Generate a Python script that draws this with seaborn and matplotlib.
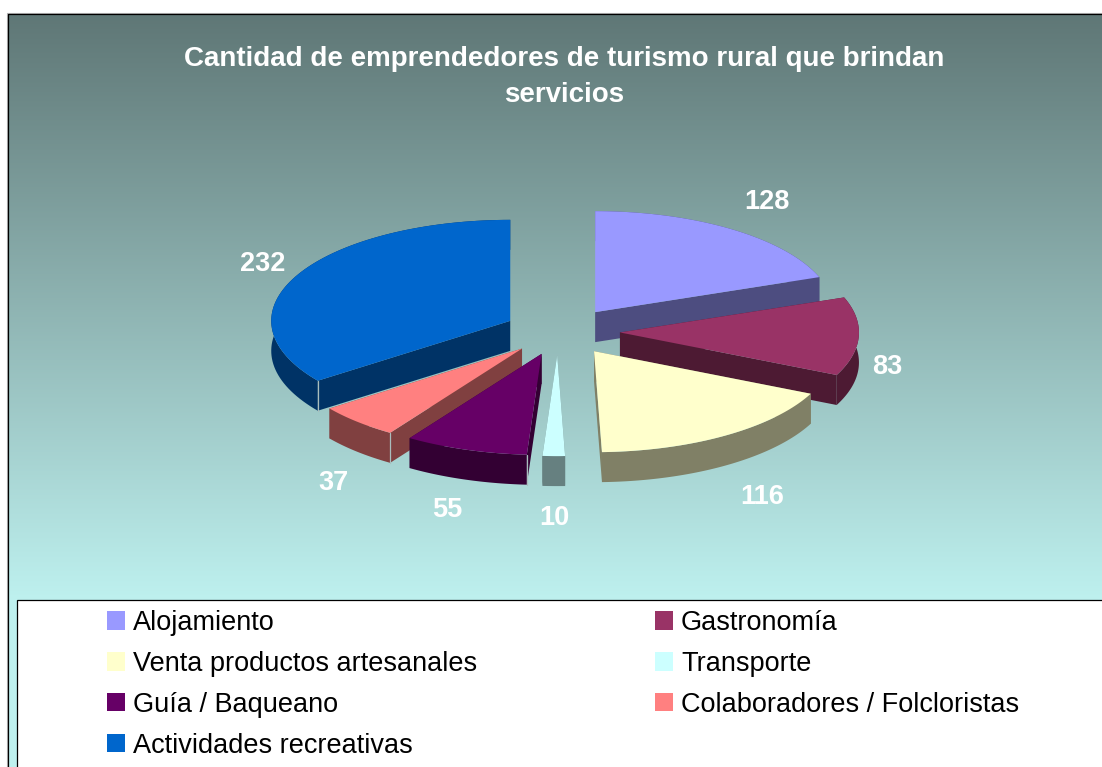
import numpy as np
import seaborn as sns
import matplotlib.pyplot as plt
from matplotlib.colors import LinearSegmentedColormap
from matplotlib.patches import Patch, Rectangle

# data
categories = ['Alojamiento', 'Gastronomía', 'Venta productos artesanales', 'Transporte',
              'Guía / Baqueano', 'Colaboradores / Folcloristas', 'Actividades recreativas']
values = [128, 83, 116, 10, 55, 37, 232]
colors = ['#9999FF', '#993366', '#FFFFCC', '#CCFFFF', '#660066', '#FF8080', '#0066CC']
title = 'Cantidad de emprendedores de turismo rural que brindan\nservicios'

# pie geometry in pixels
cx, cy = 562, 331.5
rx, ry = 239, 101
ex, ey = 58, 23.6
depth = 30
nudge = {3: -4, 4: -2}
label_pos = [(767, 202), (887, 367), (762, 497), (554, 518), (447, 510), (333, 483), (263, 264)]

sns.set_theme(style='white')
plt.rcParams['font.family'] = ['Liberation Sans', 'DejaVu Sans']
palette = sns.color_palette(colors)

fig = plt.figure(figsize=(11.02, 7.67), dpi=100)
ax = fig.add_axes([0, 0, 1, 1])
ax.set_xlim(0, 1102)
ax.set_ylim(767, 0)
ax.axis('off')

# background gradient, reaches its light colour just above the legend box
cmap = LinearSegmentedColormap.from_list('bg', ['#5F7776', '#BEF1EF'], N=1024)
rows = np.arange(14, 767)
grad = np.clip((rows - 14) / (600 - 14), 0, 1).reshape(-1, 1)
ax.imshow(grad, cmap=cmap, vmin=0, vmax=1, extent=(8, 1102, 767, 14), aspect='auto', zorder=0)
ax.set_xlim(0, 1102)
ax.set_ylim(767, 0)
ax.add_patch(Rectangle((7, 13), 1100, 760, fill=False, ec='#B4B4B4', lw=0.8, zorder=1))
ax.add_patch(Rectangle((8, 14), 1100, 760, fill=False, ec='black', lw=0.9, zorder=1))

# slices: angles run clockwise from 12 o'clock
total = sum(values)
angles = np.cumsum([0] + values) / total * 2 * np.pi
slices = []
for i, val in enumerate(values):
    a0, a1 = angles[i], angles[i + 1]
    mid = (a0 + a1) / 2
    ax0 = cx + ex * np.sin(mid) + nudge.get(i, 0)
    ay0 = cy - ey * np.cos(mid)
    slices.append((ay0, i, a0, a1, ax0))

for ay0, i, a0, a1, ax0 in sorted(slices):
    t = np.linspace(a0, a1, 80)
    xs = ax0 + rx * np.sin(t)
    ys = ay0 - ry * np.cos(t)
    top = palette[i]
    dark = tuple(c * 0.5 for c in top)
    z = 2 + ay0 / 1000
    # side walls first, then the rim, top face last
    for ex_x, ex_y in ((xs[0], ys[0]), (xs[-1], ys[-1])):
        ax.fill([ax0, ex_x, ex_x, ax0], [ay0, ex_y, ex_y + depth, ay0 + depth],
                color=dark, lw=0, zorder=z)
    ax.fill(np.r_[xs, xs[::-1]], np.r_[ys, ys[::-1] + depth], color=dark, lw=0, zorder=z)
    ax.fill(np.r_[ax0, xs], np.r_[ay0, ys], color=top, lw=0, zorder=z + 0.0001)
    # thin light line on the near corner of the left slices
    if np.pi < a0 < 1.5 * np.pi:
        ax.plot([xs[0], xs[0]], [ys[0], ys[0] + depth], color='#A9BDBD', lw=0.9, zorder=z + 0.0002)

for val, (lx, ly) in zip(values, label_pos):
    ax.text(lx, ly, str(val), color='white', fontsize=19.5, fontweight='bold',
            ha='center', va='center', zorder=5)

ax.text(564, 76.5, title, color='white', fontsize=20, fontweight='bold', ha='center', va='center',
        linespacing=1.5, zorder=5)

# legend box runs off the right and bottom edges
ax.add_patch(Rectangle((17, 600), 1100, 180, fc='white', ec='black', lw=0.9, zorder=6))
order = [0, 2, 4, 6, 1, 3, 5]
handles = [Patch(fc=palette[i], ec='none', label=categories[i]) for i in order]
leg = ax.legend(handles=handles, ncols=2, loc='upper left', bbox_to_anchor=(107 / 1102, 1 - 610 / 767),
                frameon=False, fontsize=19.5, borderpad=0, borderaxespad=0, handlelength=0.665,
                handleheight=0.665, handletextpad=0.295, labelspacing=0.55, columnspacing=6.57,
                labelcolor='black')
leg.set_zorder(7)

fig.savefig('out.png', dpi=100)
